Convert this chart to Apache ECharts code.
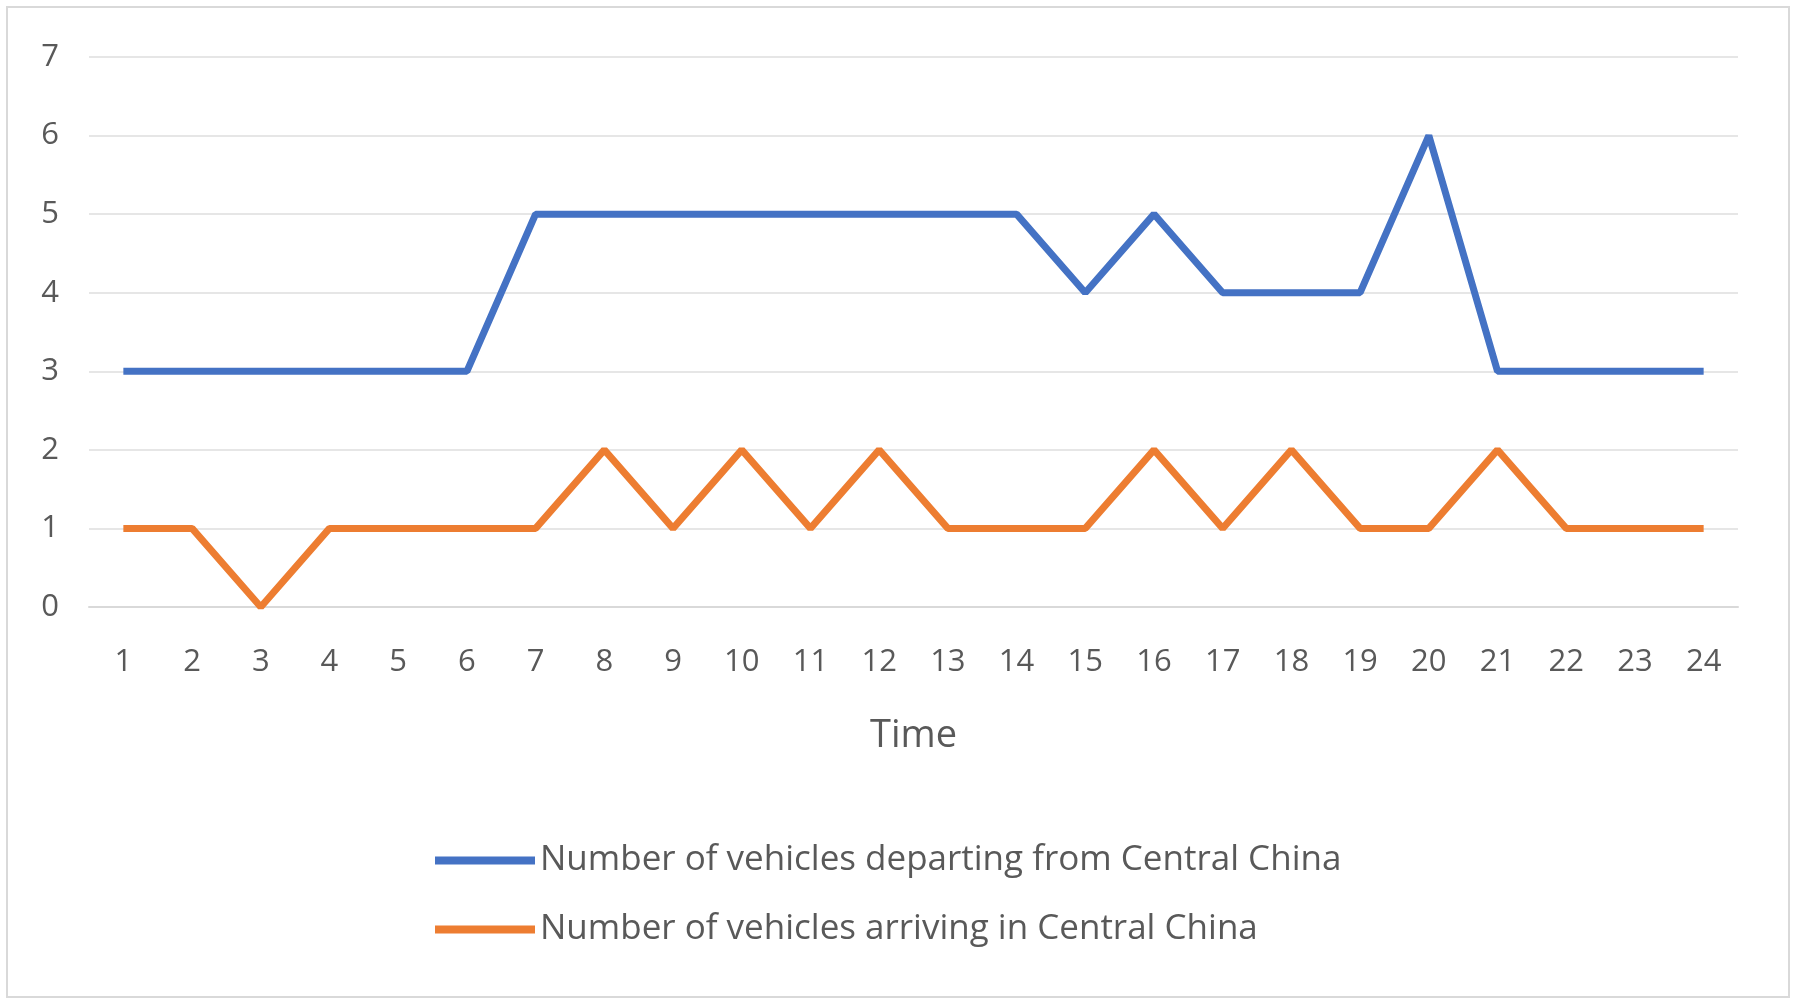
<!DOCTYPE html>
<html><head><meta charset="utf-8">
<script src="https://cdn.jsdelivr.net/npm/echarts@6/dist/echarts.min.js"></script>
<style>html,body{margin:0;background:#fff}#c{width:1796px;height:1003px}
#f{position:absolute;left:6px;top:6px;width:1780px;height:988px;border:2px solid #d9d9d9;pointer-events:none}</style>
</head><body><div id="c"></div><div id="f"></div>
<script>
const hours = ['1','2','3','4','5','6','7','8','9','10','11','12','13','14','15','16','17','18','19','20','21','22','23','24'];
const departing = [3,3,3,3,3,3,5,5,5,5,5,5,5,5,4,5,4,4,4,6,3,3,3,3];
const arriving = [1,1,0,1,1,1,1,2,1,2,1,2,1,1,1,2,1,2,1,1,2,1,1,1];
const yTicks = [0,1,2,3,4,5,6,7];

const chart = echarts.init(document.getElementById('c'));
const txt = {color:'#595959', fontFamily:'Open Sans', fontSize:31};
chart.setOption({
  backgroundColor:'#fff',
  animation:false,
  grid:{left:89, right:58, top:57, bottom:396},
  legend:{orient:'vertical', left:430, top:838, itemGap:34, itemWidth:100, itemHeight:8,
    icon:'rect', textStyle:Object.assign({}, txt, {fontSize:35}),
    data:['Number of vehicles departing from Central China','Number of vehicles arriving in Central China']},
  xAxis:{type:'category', data:hours, boundaryGap:true,
    name:'Time', nameLocation:'middle', nameGap:110, nameTextStyle:Object.assign({}, txt, {fontSize:38}),
    axisLine:{lineStyle:{color:'#d9d9d9', width:2}}, axisTick:{show:false},
    axisLabel:Object.assign({margin:40}, txt)},
  yAxis:{type:'value', min:yTicks[0], max:yTicks[yTicks.length-1], interval:1,
    axisLine:{show:false}, axisTick:{show:false},
    axisLabel:Object.assign({margin:30}, txt),
    splitLine:{lineStyle:{color:'#e6e6e6', width:2}}},
  series:[
    {name:'Number of vehicles departing from Central China', type:'line', data:departing,
     symbol:'none', lineStyle:{color:'#4472c4', width:7}, itemStyle:{color:'#4472c4'}},
    {name:'Number of vehicles arriving in Central China', type:'line', data:arriving,
     symbol:'none', lineStyle:{color:'#ed7d31', width:7}, itemStyle:{color:'#ed7d31'}}
  ]
});
</script></body></html>
